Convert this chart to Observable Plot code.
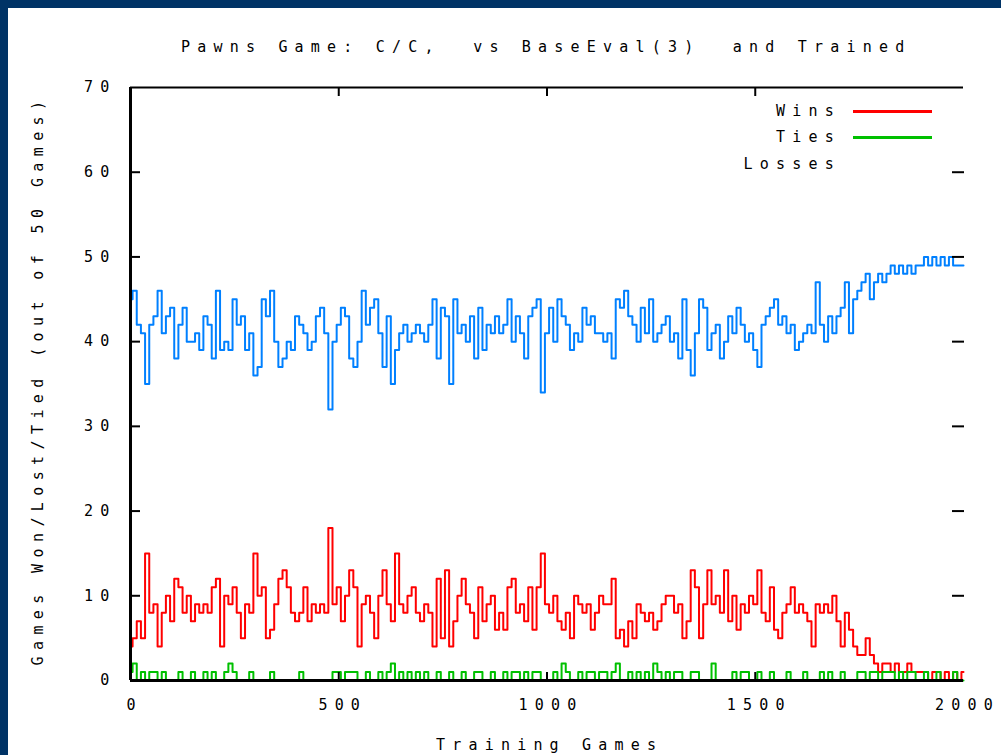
<!DOCTYPE html>
<html><head><meta charset="utf-8">
<script src="https://cdn.jsdelivr.net/npm/d3@7"></script>
<script src="https://cdn.jsdelivr.net/npm/@observablehq/plot@0.6"></script>
<style>
html,body{margin:0;padding:0;background:#fff;}
#page{position:relative;width:1001px;height:755px;background:#003366;overflow:hidden;}
#panel{position:absolute;left:8px;top:8px;width:993px;height:747px;background:#fff;}
.t{position:absolute;font-family:"DejaVu Sans Mono",monospace;font-size:15px;letter-spacing:7.2px;white-space:pre;color:#000;line-height:15px;}
.lg{position:absolute;height:3px;}
</style></head><body>
<div id="page">
  <div id="panel"></div>
  <div class="t" id="title" style="left:181px;top:40px;"></div>
  <div class="t" id="ylab" style="left:38px;top:380px;transform:translate(-50%,-50%) rotate(-90deg);letter-spacing:6.4px;"></div>
  <div class="t" id="xlab" style="left:436px;top:738px;"></div>
  <div class="t" id="lg0" style="right:160px;top:104px;"></div>
  <div class="t" id="lg1" style="right:160px;top:130px;"></div>
  <div class="t" id="lg2" style="right:160px;top:157px;"></div>
  <div class="lg" id="ll0" style="left:853px;top:110px;width:79px;"></div>
  <div class="lg" id="ll1" style="left:853px;top:136px;width:79px;"></div>
</div>
<script>
// ---- texts ----
const titleText = "Pawns Game: C/C,  vs BaseEval(3)  and Trained";
const xLabel = "Training Games";
const yLabel = "Games Won/Lost/Tied (out of 50 Games)";

// ---- series ----
const seriesNames = ["Wins", "Ties", "Losses"];
const seriesColors = ["#ff0000", "#00c000", "#0080ff"];

// training games, every 10 games from 0 to 2000
const games = d3.range(0, 2001, 10);

const wins = [
  4,5,7,5,15,8,9,4,8,10,
  7,12,11,8,10,7,9,8,9,8,
  11,12,4,10,9,11,8,5,9,8,
  15,10,11,5,6,9,12,13,11,8,
  7,8,11,7,9,8,9,8,18,9,
  11,7,10,13,11,4,9,10,8,5,
  10,13,9,7,15,9,8,10,11,8,
  7,9,8,4,12,5,13,4,7,10,
  12,9,8,5,11,7,9,10,6,8,
  6,11,12,8,9,7,11,6,11,15,
  9,8,10,7,6,8,5,10,9,8,
  9,6,8,10,9,9,12,5,6,4,
  7,5,9,8,7,8,6,7,9,10,
  10,8,9,5,7,13,11,5,9,13,
  9,10,8,13,7,10,6,9,8,10,
  9,13,8,7,11,6,5,8,9,11,
  8,9,8,7,4,9,8,9,8,10,
  7,4,8,6,4,3,3,5,3,2,
  1,2,2,1,2,1,1,2,1,1,
  1,1,0,1,1,0,1,0,1,0,
  1
];

const ties = [
  1,2,0,1,0,1,1,0,1,0,
  0,0,1,0,0,1,0,0,1,0,
  1,0,0,1,2,1,0,0,0,1,
  0,0,0,0,1,0,0,0,0,0,
  0,1,0,0,0,0,0,0,0,1,
  1,0,1,1,1,0,0,1,0,0,
  1,0,1,2,0,1,0,1,0,1,
  0,1,0,0,1,0,0,1,0,0,
  1,0,0,1,1,0,0,1,0,0,
  1,0,1,1,0,1,0,1,1,0,
  0,0,1,0,2,1,0,0,1,0,
  1,1,0,1,1,0,1,2,0,0,
  1,0,1,0,1,0,2,1,0,1,
  0,1,1,0,0,1,1,0,0,0,
  2,0,0,0,0,1,0,1,1,0,
  0,1,0,0,1,0,0,0,1,0,
  0,0,1,0,0,0,1,0,1,0,
  0,1,0,0,0,1,1,0,1,1,
  0,1,1,1,0,1,0,1,1,0,
  0,1,0,0,1,0,0,0,1,0,
  0
];

const losses = [
  45,46,42,41,35,42,43,46,41,43,
  44,38,42,44,40,40,41,39,43,42,
  38,46,39,40,39,45,42,43,39,41,
  36,37,45,43,46,40,37,38,40,39,
  43,42,41,39,40,43,44,41,32,40,
  42,44,43,38,37,40,46,42,44,45,
  41,37,43,35,39,41,42,40,41,42,
  41,40,42,45,38,44,43,35,45,41,
  42,40,43,38,44,39,42,41,43,41,
  42,45,40,43,41,38,43,44,45,34,
  41,44,40,45,43,42,39,41,40,44,
  42,43,41,41,40,41,38,45,44,46,
  43,42,40,44,41,45,40,41,42,43,
  40,41,38,45,39,36,41,45,44,39,
  41,42,38,40,43,41,44,42,40,41,
  39,37,42,43,44,45,42,43,41,42,
  39,40,41,42,41,47,42,40,43,41,
  43,44,47,41,45,46,47,48,45,47,
  48,47,48,49,48,49,48,49,48,49,
  49,50,49,50,49,50,49,50,49,49,
  49
];

// ---- ticks ----
const xTicks = [0, 500, 1000, 1500, 2000];
const xTickLabels = ["0", "500", "1000", "1500", "2000"];
const yTicks = [0, 10, 20, 30, 40, 50, 60, 70];
const yTickLabels = ["0", "10", "20", "30", "40", "50", "60", "70"];

// ---- build table ----
const seriesValues = [wins, ties, losses];
const rows = [];
seriesNames.forEach((name, s) => {
  games.forEach((g, i) => rows.push({game: g, series: name, value: seriesValues[s][i]}));
});

const chart = Plot.plot({
  width: 993,
  height: 747,
  marginLeft: 122,
  marginRight: 38,
  marginTop: 79,
  marginBottom: 75,
  x: {domain: [0, 2000], axis: null},
  y: {domain: [0, 70], axis: null},
  color: {domain: seriesNames, range: seriesColors},
  style: {fontFamily: "'DejaVu Sans Mono', monospace", fontSize: "15px", letterSpacing: "7.2px", background: "white", overflow: "visible", color: "black"},
  marks: [
    Plot.line(rows, {x: "game", y: "value", z: "series", stroke: "series", strokeWidth: 2, curve: "step"}),
    Plot.axisY(yTicks.slice(1, -1), {anchor: "left", tickSize: -10, strokeWidth: 2, tickFormat: () => "", label: null}),
    Plot.axisY(yTicks.slice(1, -1), {anchor: "right", tickSize: -12, strokeWidth: 2, tickFormat: () => "", label: null}),
    Plot.axisX(xTicks.slice(1, -1), {anchor: "top", tickSize: -8, strokeWidth: 2, tickFormat: () => "", label: null}),
    Plot.axisX(xTicks.slice(1, -1), {anchor: "bottom", tickSize: -8, strokeWidth: 2, tickFormat: () => "", label: null}),
    Plot.ruleX([0], {stroke: "black", strokeWidth: 3}),
    Plot.ruleY([0], {stroke: "black", strokeWidth: 3}),
    Plot.ruleY([70], {stroke: "black", strokeWidth: 2}),
    Plot.text(yTicks, {y: d => d, frameAnchor: "left", dx: -14, textAnchor: "end", lineAnchor: "middle", text: (d, i) => yTickLabels[i], fill: "black"}),
    Plot.text(xTicks, {x: d => d, frameAnchor: "bottom", dy: 25, dx: 4, textAnchor: "middle", lineAnchor: "middle", text: (d, i) => xTickLabels[i], fill: "black"})
  ]
});
document.getElementById("panel").appendChild(chart);

document.getElementById("title").textContent = titleText;
document.getElementById("xlab").textContent = xLabel;
document.getElementById("ylab").textContent = yLabel;
seriesNames.forEach((n, i) => { document.getElementById("lg" + i).textContent = n; });
document.getElementById("ll0").style.background = seriesColors[0];
document.getElementById("ll1").style.background = seriesColors[1];
</script>
</body></html>
